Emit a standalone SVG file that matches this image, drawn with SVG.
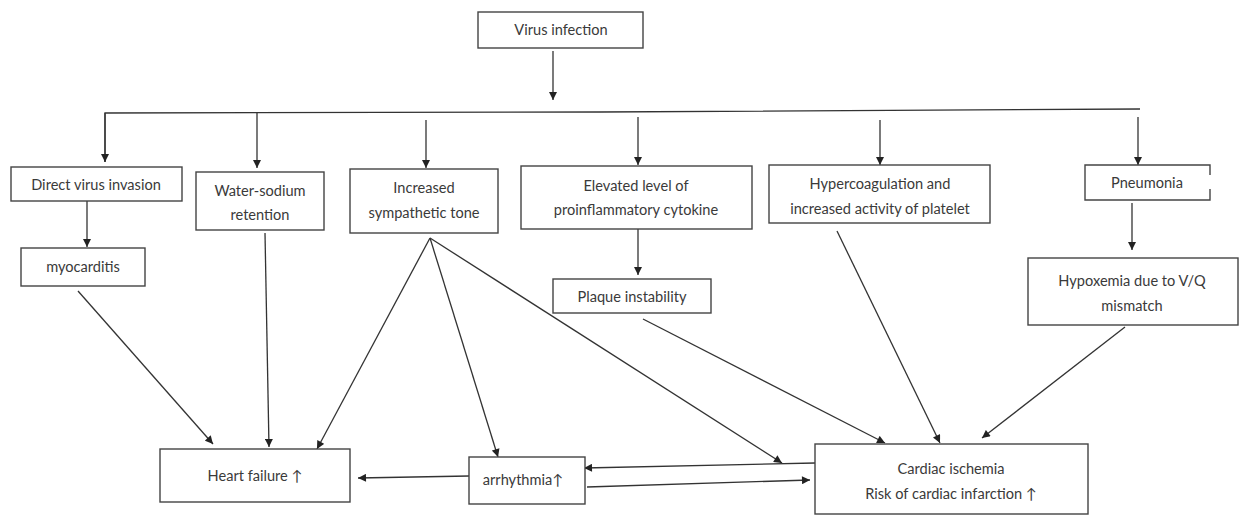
<svg xmlns="http://www.w3.org/2000/svg" width="1242" height="516" viewBox="0 0 1242 516">
<style>
.box{fill:#fff;stroke:#444;stroke-width:1.4}
.t{font-family:Lato,"Open Sans","Liberation Sans",sans-serif;font-size:14.6px;fill:#3a3a3a;text-anchor:middle}
.c{fill:none;stroke:#333;stroke-width:1.3}
.a{fill:none;stroke:#333;stroke-width:1.3;marker-end:url(#ah)}
</style>
<defs>
<marker id="ah" viewBox="0 0 10 10" refX="10" refY="5" markerWidth="9" markerHeight="8" markerUnits="userSpaceOnUse" orient="auto">
<path d="M0,0 L10,5 L0,10 z" fill="#222"/>
</marker>
</defs>
<g id="connectors">
<line class="a" x1="553" y1="51" x2="553" y2="100"/>
<polyline class="c" points="105,162 105,113 600,112 1140,109"/>
<line class="a" x1="105" y1="113" x2="105" y2="162"/>
<line class="a" x1="257" y1="113" x2="257" y2="168"/>
<line class="a" x1="426" y1="120" x2="426" y2="168"/>
<line class="a" x1="638" y1="117" x2="638" y2="165"/>
<line class="a" x1="880" y1="120" x2="880" y2="165"/>
<line class="a" x1="1138" y1="117" x2="1138" y2="165"/>
<line class="a" x1="87" y1="197" x2="87" y2="247"/>
<line class="a" x1="638" y1="229" x2="638" y2="275"/>
<line class="a" x1="1132" y1="203" x2="1132" y2="250"/>
<line class="a" x1="78" y1="291" x2="213" y2="444"/>
<line class="a" x1="265" y1="233" x2="269" y2="447"/>
<line class="a" x1="430" y1="238" x2="317" y2="449"/>
<line class="a" x1="430" y1="238" x2="498" y2="457"/>
<line class="a" x1="430" y1="238" x2="782" y2="463"/>
<line class="a" x1="643" y1="319" x2="885" y2="443"/>
<line class="a" x1="837" y1="231" x2="940" y2="443"/>
<line class="a" x1="1125" y1="327" x2="982" y2="438"/>
<line class="a" x1="815" y1="463" x2="584" y2="468"/>
<line class="a" x1="587" y1="487" x2="810" y2="480"/>
<line class="a" x1="469" y1="476" x2="358" y2="478"/>
</g>
<g id="virus-infection"><rect class="box" x="478" y="12" width="165" height="36"/><text class="t" x="561" y="35">Virus infection</text></g>
<g id="direct-virus-invasion"><rect class="box" x="11" y="167" width="171" height="34"/><text class="t" x="96" y="190">Direct virus invasion</text></g>
<g id="water-sodium"><rect class="box" x="196" y="172" width="128" height="58"/><text class="t" x="260" y="196">Water-sodium</text><text class="t" x="260" y="220">retention</text></g>
<g id="sympathetic"><rect class="box" x="350" y="169" width="148" height="64"/><text class="t" x="424" y="193">Increased</text><text class="t" x="424" y="218">sympathetic tone</text></g>
<g id="cytokine"><rect class="box" x="521" y="166" width="231" height="63"/><text class="t" x="636" y="191">Elevated level of</text><text class="t" x="636" y="215">proinflammatory cytokine</text></g>
<g id="hypercoagulation"><rect class="box" x="769" y="165" width="221" height="58"/><text class="t" x="880" y="189">Hypercoagulation and</text><text class="t" x="880" y="214">increased activity of platelet</text></g>
<g id="pneumonia"><path class="box" d="M1210,175 V165 H1085 V200 H1210 V189"/><text class="t" x="1147" y="188">Pneumonia</text></g>
<g id="myocarditis"><rect class="box" x="21" y="248" width="124" height="38"/><text class="t" x="83" y="272">myocarditis</text></g>
<g id="plaque"><rect class="box" x="553" y="279" width="158" height="34"/><text class="t" x="632" y="302">Plaque instability</text></g>
<g id="hypoxemia"><rect class="box" x="1028" y="258" width="210" height="67"/><text class="t" x="1132" y="286">Hypoxemia due to V/Q</text><text class="t" x="1132" y="311">mismatch</text></g>
<g id="heart-failure"><rect class="box" x="160" y="449" width="190" height="53"/><text class="t" x="255" y="481">Heart failure ↑</text></g>
<g id="arrhythmia"><rect class="box" x="469" y="457" width="116" height="47"/><text class="t" x="523" y="485">arrhythmia↑</text></g>
<g id="cardiac"><rect class="box" x="815" y="444" width="273" height="70"/><text class="t" x="951" y="474">Cardiac ischemia</text><text class="t" x="951" y="499">Risk of cardiac infarction ↑</text></g>
</svg>
